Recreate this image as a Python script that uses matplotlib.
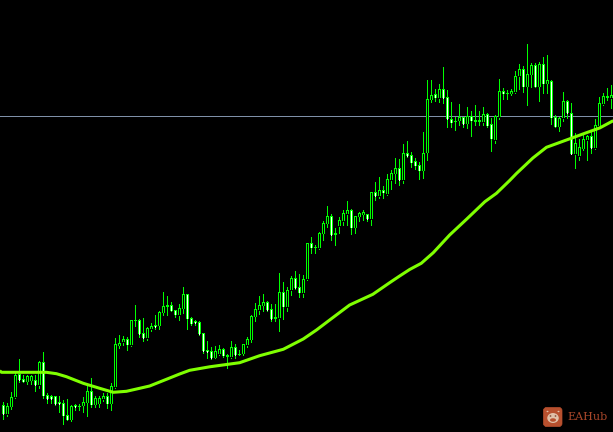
import matplotlib
matplotlib.use("Agg")
import matplotlib.pyplot as plt
from matplotlib.patches import FancyBboxPatch, Circle, Ellipse
from matplotlib.collections import LineCollection

# Candle readings, in thirds of a chart unit, one block per stretch of the chart.
# Each block has its own base level (in chart units).
base_a = 280
high_a = [365,370,336,280,237,285,285,285,285,243,216,340,344,348,348,360,358,376,372,372,350,316,294,348,348,340,340,310,175,165,168,170,120,75,118,114,140,128,106,92,36,48,66,90,72,22,42,110,120,124,160]
top_a = [376,378,352,284,282,297,289,289,301,247,247,345,348,349,366,370,406,378,376,377,366,333,333,354,354,349,349,319,193,190,178,178,121,120,121,160,144,138,136,96,78,76,76,91,84,42,43,115,124,126,160]
bot_a = [402,402,380,352,300,305,305,302,315,315,347,357,358,372,372,407,419,419,382,379,377,368,374,374,371,357,371,371,321,197,186,194,195,122,162,174,174,147,142,137,98,81,92,104,105,86,116,131,130,162,214]
low_a = [416,408,386,354,305,306,312,312,332,325,354,368,368,374,396,431,421,422,390,390,396,407,380,382,382,364,384,390,324,204,195,210,197,137,172,182,180,152,148,146,106,106,94,110,120,100,147,134,134,166,220]
bear_a = [1,0,0,0,1,1,0,0,1,0,1,1,1,1,1,1,1,0,1,1,0,0,1,0,0,0,1,0,0,0,0,1,0,1,1,1,0,0,1,0,0,1,1,1,0,0,1,1,1,1,1]

base_b = 190
high_b = [452,472,468,465,475,492,453,462,480,462,441,376,340,319,312,332,342,342,250,276,290,258,243,252,254,159,141,165,127,92,48,72,113,82,60,33,57,78,66,60,72,5]
top_b = [480,484,484,478,478,496,472,472,491,463,448,379,358,346,337,337,358,382,307,307,301,264,265,292,268,160,160,172,130,100,79,79,130,91,70,61,61,79,70,67,73,6]
bot_b = [486,504,503,492,497,500,502,496,494,491,465,449,380,360,347,360,387,386,384,350,351,300,294,308,309,268,173,173,174,131,101,135,134,108,93,72,113,113,80,74,88,88]
low_b = [505,507,504,495,500,534,504,504,495,495,470,455,392,372,362,364,392,394,422,386,364,316,298,320,320,270,188,188,176,150,112,150,164,130,104,104,132,128,92,90,92,104]
bear_b = [1,1,0,0,1,1,0,1,1,0,0,0,0,0,0,1,1,1,0,1,0,0,1,1,0,0,1,1,0,0,0,1,1,0,0,0,1,0,0,0,1,0]

base_c = 130
high_c = [156,141,168,132,120,84,87]
top_c = [187,181,181,148,130,115,115]
bot_c = [198,198,188,192,150,131,150]
low_c = [210,204,204,195,176,160,165]
bear_c = [1,0,1,0,0,0,1]

base_d = 30
high_d = [342,333,365,385,396,306,150,150,178,162,111,180,216,262,222,260,232,244,226,244,232,250,264,255,148,175,180,176,124,102,108,42,100,100,97,82,76,150,256,260,186,210,218,310,326,308,314,304,268,200,190,174,165]
top_d = [370,370,376,393,405,370,208,196,193,178,178,202,268,273,262,262,259,259,270,270,253,253,283,258,184,184,188,183,138,118,118,131,106,106,102,103,151,152,262,264,214,214,250,338,352,328,318,318,286,220,198,198,196]
bot_d = [450,378,398,407,422,422,368,209,203,204,204,268,278,275,272,282,281,272,275,275,277,287,326,330,262,191,190,191,186,138,170,170,134,170,170,161,161,263,290,290,264,250,372,372,378,356,330,354,354,288,222,203,204]
low_d = [458,382,410,416,446,444,390,216,212,216,220,290,290,300,286,290,294,318,286,284,286,290,362,338,266,206,206,194,188,176,186,224,170,172,214,188,190,282,292,302,272,264,372,413,390,360,390,370,358,292,226,210,234]
bear_d = [0,1,1,1,1,0,0,0,1,0,1,1,1,0,0,1,0,1,0,0,0,1,1,0,0,1,0,0,0,0,1,0,0,1,0,1,0,1,1,0,0,1,1,0,0,0,0,1,0,0,0,0,0]

# Moving average: bar position and level
ma_bar = [-0.875,-0.45,10.8,13.3,15.8,20,24.1,27.5,30.8,34.1,36.6,40.8,44.1,46.6,51.6,59.1,64.1,70,75,78.3,82.5,86.6,92.4,96.6,99.1,101.6,104.5,107.5,111.6,115.8,120.4,123.3,126.6,128.3,132.4,135.8,140.8,145.8,149.1,152.5]
ma_level = [370.7,372.3,372.3,373.7,376.7,383.3,388.3,392.3,391.3,388.3,386,379.3,374,370.3,366.8,362.7,355.7,349.3,339,330,317.3,305,294.3,282.7,276,269.5,263.3,252.7,235,219.3,201.7,193.3,180.5,173.5,158,147.3,140,132.7,128,120.7]
hline_level = 116.0
watermark = "EAHub"

blocks = [(base_a, high_a, top_a, bot_a, low_a, bear_a),
          (base_b, high_b, top_b, bot_b, low_b, bear_b),
          (base_c, high_c, top_c, bot_c, low_c, bear_c),
          (base_d, high_d, top_d, bot_d, low_d, bear_d)]
high, top, bot, low, bear = [], [], [], [], []
for b, h, t, o, l, k in blocks:
    high += [b + v / 3 for v in h]
    top += [b + v / 3 for v in t]
    bot += [b + v / 3 for v in o]
    low += [b + v / 3 for v in l]
    bear += k
bars = list(range(len(high)))

GREEN = "#00FF00"
PX = 72 / 100  # one pixel, in points

fig = plt.figure(figsize=(6.13, 4.32), dpi=100, facecolor="black")
ax = fig.add_axes([0, 0, 1, 1], facecolor="black")
ax.set_xlim(-0.8125, 152.4375)
ax.set_ylim(432, 0)
ax.axis("off")

ax.axhline(hline_level, color="#7F90A8", lw=PX, zorder=1, antialiased=False)


def thin_column(segments, colors, zorder):
    ax.add_collection(LineCollection(segments, colors=colors, linewidths=PX,
                                     antialiased=False, capstyle="butt", zorder=zorder))


thin_column([[(x, h), (x, l)] for x, h, l in zip(bars, high, low)], GREEN, 2)
# body: a three pixel green bar (a bar position is four pixels wide) with a one pixel inner column
body_end = [max(b, t + 1) for t, b in zip(top, bot)]
ax.bar(bars, [e - t for t, e in zip(top, body_end)], bottom=top, width=0.75,
       color=GREEN, linewidth=0, antialiased=False, zorder=3)
inner = [(x, t, b, k) for x, t, b, k in zip(bars, top, bot, bear) if b - t > 1.7]
thin_column([[(i[0], i[1] + 1), (i[0], i[2] - 0.4)] for i in inner],
            ["white" if i[3] else "black" for i in inner], 4)

ax.plot(ma_bar, ma_level, color="#7FFF00", lw=2.2, solid_joinstyle="round",
        solid_capstyle="butt", zorder=5)

# Watermark, placed in axes fractions
W, H = 613, 432
trans = ax.transAxes
ICON = "#B8502E"
FACE = "#E0C0A8"
ax.add_patch(FancyBboxPatch((543.5 / W, 1 - 426.5 / H), 18.5 / W, 19 / H, transform=trans,
                            boxstyle="round,pad=0,rounding_size=0.005", fc=ICON, ec=ICON,
                            lw=0.5, zorder=6, mutation_aspect=1.4))
ax.add_patch(Ellipse((553 / W, 1 - 418 / H), 11.5 / W, 10 / H, transform=trans,
                     fc=FACE, ec="none", zorder=7))
ax.add_patch(Ellipse((553 / W, 1 - 420 / H), 6 / W, 3.5 / H, transform=trans,
                     fc=ICON, ec="none", zorder=8))
for ex in (550.5, 555.5):
    ax.add_patch(Circle((ex / W, 1 - 416 / H), 0.9 / W, transform=trans,
                        fc="#6B2A18", ec="none", zorder=8))
    ax.add_patch(Circle(((ex + (ex - 553) * 1.2) / W, 1 - 411.5 / H), 1.0 / W, transform=trans,
                        fc=FACE, ec="none", zorder=7))
ax.text(567 / W, 1 - 417.5 / H, watermark, transform=trans, color="#A8472A",
        family="DejaVu Serif", fontsize=8, va="center", ha="left", zorder=7)

fig.savefig("out.png", dpi=100, facecolor="black")
